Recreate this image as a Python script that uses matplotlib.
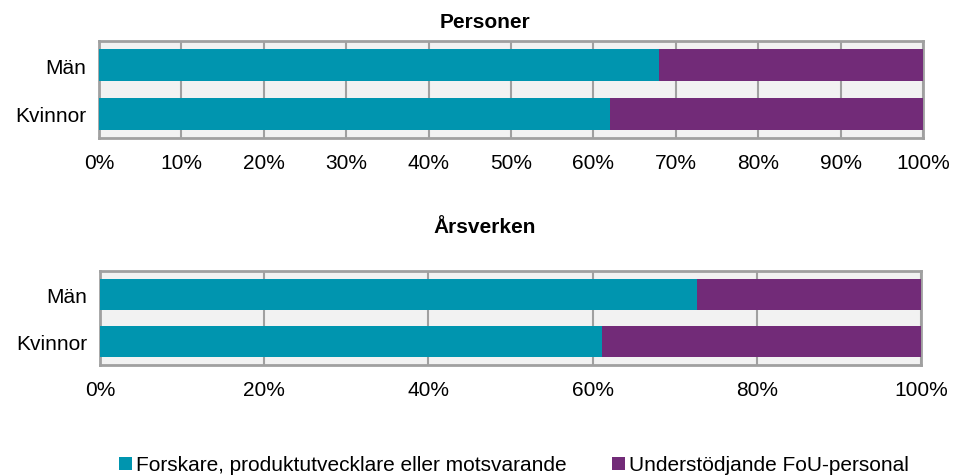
import matplotlib
matplotlib.use("Agg")
import matplotlib.pyplot as plt
from matplotlib.patches import Patch

plt.rcParams['font.family'] = ['Liberation Sans', 'DejaVu Sans']

categories = ["Män", "Kvinnor"]
series_names = ["Forskare, produktutvecklare eller motsvarande", "Understödjande FoU-personal"]
personer_forskare = [68.0, 62.0]
arsverken_forskare = [72.7, 61.1]
personer_stod = [100 - v for v in personer_forskare]
arsverken_stod = [100 - v for v in arsverken_forskare]
titles = ["Personer", "Årsverken"]
top_ticks = [0, 10, 20, 30, 40, 50, 60, 70, 80, 90, 100]
bottom_ticks = [0, 20, 40, 60, 80, 100]

c1 = "#0095AF"
c2 = "#722B78"
W, H = 959, 477
fig = plt.figure(figsize=(W / 100, H / 100), dpi=100)
FS = 15

def make_ax(left, top, right, bottom):
    return fig.add_axes([left / W, 1 - bottom / H, (right - left) / W, (bottom - top) / H])

panels = [
    (make_ax(99, 42, 923, 139), personer_forskare, personer_stod, top_ticks, titles[0], 23),
    (make_ax(100, 272, 921, 366), arsverken_forskare, arsverken_stod, bottom_ticks, titles[1], 228),
]

for ax, a, b, ticks, title, ty in panels:
    ax.set_facecolor("#f2f2f2")
    y = list(range(len(categories)))
    ax.barh(y, a, height=0.65, color=c1, zorder=3)
    ax.barh(y, b, left=a, height=0.65, color=c2, zorder=3)
    ax.set_xlim(0, 100)
    ax.set_ylim(len(categories) - 0.5, -0.5)
    ax.set_yticks(y)
    ax.set_yticklabels(categories, fontsize=FS)
    ax.set_xticks(ticks)
    ax.set_xticklabels([f"{t}%" for t in ticks], fontsize=FS)
    ax.tick_params(axis='both', length=0)
    ax.tick_params(axis='x', pad=11)
    ax.tick_params(axis='y', pad=9)
    ax.grid(axis='x', color="#a0a0a0", linewidth=1.5, zorder=1)
    for s in ax.spines.values():
        s.set_color("#a0a0a0")
        s.set_linewidth(2)
    fig.text(485 / W, 1 - ty / H, title, fontsize=FS, fontweight='bold', ha='center', va='center')

handles = [Patch(facecolor=c1, edgecolor='none'), Patch(facecolor=c2, edgecolor='none')]
fig.legend(handles, series_names, loc='center', bbox_to_anchor=(514 / W, 1 - 466 / H), ncol=2,
           frameon=False, fontsize=FS, handlelength=0.6, handleheight=0.6,
           handletextpad=0.2, columnspacing=2.2)

fig.savefig("out.png", dpi=100)
